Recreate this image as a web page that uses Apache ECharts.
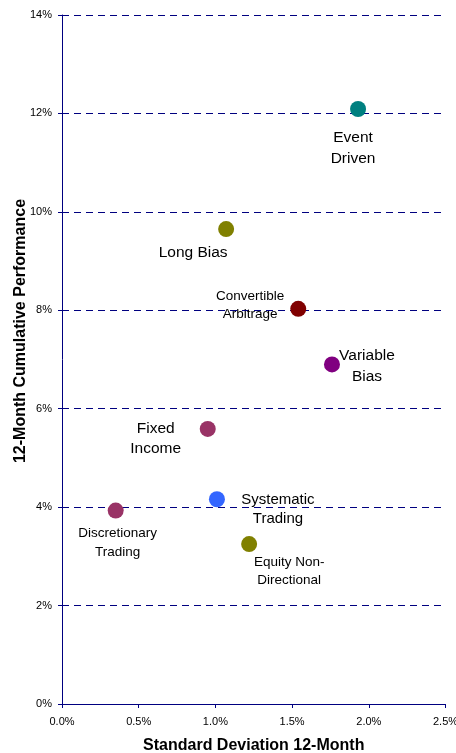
<!DOCTYPE html>
<html>
<head>
<meta charset="utf-8">
<script src="https://cdn.jsdelivr.net/npm/echarts@6/dist/echarts.min.js"></script>
<style>
html,body{margin:0;padding:0;background:#fff;}
#c{width:456px;height:753px;}
</style>
</head>
<body>
<div id="c"></div>
<script>
// ---- data ----
const strategies = ["Event Driven","Long Bias","Convertible Arbitrage","Variable Bias","Fixed Income","Systematic Trading","Discretionary Trading","Equity Non-Directional"];
const stdDev12m  = [1.93, 1.07, 1.54, 1.76, 0.95, 1.01, 0.35, 1.22];   // %
const perf12m    = [12.09, 9.65, 8.03, 6.90, 5.59, 4.16, 3.93, 3.25]; // %
const xTicks = [0, 0.5, 1.0, 1.5, 2.0, 2.5];
const yTicks = [0, 2, 4, 6, 8, 10, 12, 14];
const xTitle = "Standard Deviation 12-Month";
const yTitle = "12-Month Cumulative Performance";

// ---- styling (kept separate from data) ----
const labelText = {
  "Event Driven": "Event\nDriven",
  "Long Bias": "Long Bias",
  "Convertible Arbitrage": "Convertible\nArbitrage",
  "Variable Bias": "Variable\nBias",
  "Fixed Income": "Fixed\nIncome",
  "Systematic Trading": "Systematic\nTrading",
  "Discretionary Trading": "Discretionary\nTrading",
  "Equity Non-Directional": "Equity Non-\nDirectional"
};
const style = {
  "Event Driven":          {color:"#008080", off:[-5,39],  fs:15.5, lh:21},
  "Long Bias":             {color:"#808000", off:[-33,24], fs:15.5, lh:20},
  "Convertible Arbitrage": {color:"#800000", off:[-48,-4], fs:13.5, lh:18},
  "Variable Bias":         {color:"#800080", off:[35,2],   fs:15.5, lh:20.5},
  "Fixed Income":          {color:"#993366", off:[-52,10], fs:15.5, lh:20.5},
  "Systematic Trading":    {color:"#3366FF", off:[61,10],  fs:15, lh:19},
  "Discretionary Trading": {color:"#993366", off:[2,32],   fs:13.5, lh:18.5},
  "Equity Non-Directional":{color:"#808000", off:[40,27],  fs:13.5, lh:17.5}
};

const FONT = "'Liberation Sans', Arial, sans-serif";
const NAVY = "#000080";

const points = strategies.map((n, i) => ({
  name: n,
  value: [stdDev12m[i], perf12m[i]],
  itemStyle: {color: style[n].color, opacity: 1},
  label: {
    show: true,
    formatter: labelText[n],
    position: "inside",
    offset: style[n].off,
    align: "center",
    verticalAlign: "middle",
    color: "#000",
    fontFamily: FONT,
    fontSize: style[n].fs,
    lineHeight: style[n].lh
  }
}));

const chart = echarts.init(document.getElementById("c"), null, {renderer: "canvas"});
chart.setOption({
  animation: false,
  backgroundColor: "#fff",
  grid: {left: 62, right: 10.5, top: 15, bottom: 49, containLabel: false, outerBoundsMode: "none"},
  xAxis: {
    type: "value",
    min: xTicks[0], max: xTicks[xTicks.length - 1], interval: 0.5,
    name: xTitle, nameLocation: "middle", nameGap: 34, nameMoveOverlap: false,
    nameTextStyle: {fontFamily: FONT, fontWeight: "bold", fontSize: 16, color: "#000"},
    axisLine: {show: true, lineStyle: {color: NAVY, width: 1}},
    axisTick: {show: true, inside: false, length: 4, lineStyle: {color: NAVY}},
    axisLabel: {fontFamily: FONT, fontSize: 11, color: "#000", margin: 12,
      formatter: v => v.toFixed(1) + "%"},
    splitLine: {show: false}
  },
  yAxis: {
    type: "value",
    min: yTicks[0], max: yTicks[yTicks.length - 1], interval: 2,
    name: yTitle, nameLocation: "middle", nameGap: 33, nameRotate: 90, nameMoveOverlap: false,
    nameTextStyle: {fontFamily: FONT, fontWeight: "bold", fontSize: 16, color: "#000",
      padding: [0, 0, 0, 57]},
    axisLine: {show: true, lineStyle: {color: NAVY, width: 1}},
    axisTick: {show: true, inside: false, length: 4, lineStyle: {color: NAVY}},
    axisLabel: {fontFamily: FONT, fontSize: 11, color: "#000", margin: 10,
      formatter: v => v + "%"},
    splitLine: {show: true, lineStyle: {color: NAVY, width: 1, type: [7, 5]}}
  },
  series: [{
    type: "scatter",
    symbol: "circle",
    symbolSize: 16,
    itemStyle: {opacity: 1},
    emphasis: {disabled: true},
    data: points,
    z: 3
  }]
});
</script>
</body>
</html>
